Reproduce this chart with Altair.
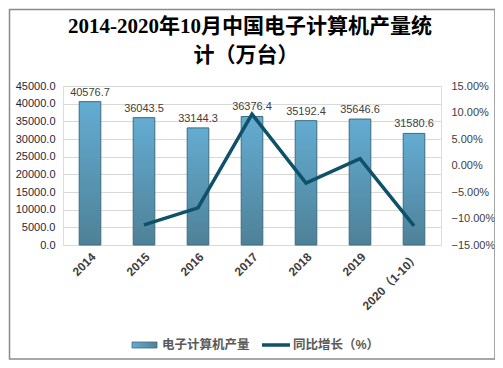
import altair as alt
import pandas as pd

years = ["2014", "2015", "2016", "2017", "2018", "2019", "2020（1-10）"]
output = [40576.7, 36043.5, 33144.3, 36376.4, 35192.4, 35646.6, 31580.6]
growth = [None, -11.2, -8.0, 9.7, -3.3, 1.3, -11.4]
left_ticks = [0, 5000, 10000, 15000, 20000, 25000, 30000, 35000, 40000, 45000]
right_ticks = [-15, -10, -5, 0, 5, 10, 15]
title_lines = ["2014-2020年10月中国电子计算机产量统", "计（万台）"]
legend_labels = ["电子计算机产量", "同比增长（%）"]

df = pd.DataFrame({"year": years, "output": output, "growth": growth})

W, H = 378, 159
FONT = "Liberation Sans, Noto Sans CJK SC"
TFONT = "Liberation Serif, Noto Sans CJK SC"

xenc = alt.X(
    "year:N", sort=years, title=None,
    scale=alt.Scale(paddingInner=0.6, paddingOuter=0.3),
    axis=alt.Axis(labelAngle=-45, labelFontWeight="bold", labelColor="#404040",
                  labelFontSize=12, labelFont=FONT, domain=False, ticks=False,
                  labelPadding=6),
)

left_axis = alt.Axis(values=left_ticks, format=".1f", labelColor="#1f1f3a",
                     labelFontSize=11, labelFont=FONT, domain=False, ticks=False,
                     labelOverlap=False, gridColor="#d9d9d9", labelPadding=8)
left_scale = alt.Scale(domain=[0, 45000], nice=False)

base = alt.Chart(df)

bars = base.mark_bar(
    color=alt.Gradient(
        gradient="linear", x1=0, x2=0, y1=0, y2=1,
        stops=[alt.GradientStop(color="#64acd2", offset=0),
               alt.GradientStop(color="#4e8197", offset=1)],
    ),
    stroke="#3d6b80", strokeWidth=1,
).encode(
    x=xenc,
    y=alt.Y("output:Q", title=None, scale=left_scale, axis=left_axis),
)

labels = base.mark_text(dy=-9, fontSize=11, color="#404040", font=FONT).encode(
    x=xenc,
    y=alt.Y("output:Q", title=None, scale=left_scale, axis=None),
    text=alt.Text("output:Q", format=".1f"),
)

line = base.transform_filter("datum.growth != null").mark_line(
    color="#0e5168", strokeWidth=3.5
).encode(
    x=xenc,
    y=alt.Y("growth:Q", title=None,
            scale=alt.Scale(domain=[-15, 15], nice=False),
            axis=alt.Axis(orient="right", values=right_ticks,
                          labelExpr="format(datum.value, '.2f') + '%'",
                          labelColor="#404040", labelFontSize=11, labelFont=FONT,
                          labelOverlap=False,
                          domain=False, ticks=False, grid=False, labelPadding=10)),
)

one = pd.DataFrame({"a": [0]})
deco = alt.Chart(one)

border = deco.mark_rect(filled=False, stroke="#8a8a8a", strokeWidth=1.5).encode(
    x=alt.value(-53.5), x2=alt.value(432), y=alt.value(-76.5), y2=alt.value(273)
)
title1 = deco.mark_text(align="center", baseline="middle", fontSize=21, fontWeight="bold",
                        color="#000000", font=TFONT).encode(
    x=alt.value(187), y=alt.value(-59), text=alt.value(title_lines[0]))
title2 = deco.mark_text(align="center", baseline="middle", fontSize=21, fontWeight="bold",
                        color="#000000", font=TFONT).encode(
    x=alt.value(183), y=alt.value(-30), text=alt.value(title_lines[1]))
sw1 = deco.mark_rect(
    color=alt.Gradient(
        gradient="linear", x1=0, x2=1, y1=0, y2=0,
        stops=[alt.GradientStop(color="#64acd2", offset=0),
               alt.GradientStop(color="#4e8197", offset=1)],
    ),
    stroke="#3d6b80", strokeWidth=0.8,
).encode(x=alt.value(69), x2=alt.value(94), y=alt.value(256), y2=alt.value(262))
t1 = deco.mark_text(align="left", baseline="middle", fontSize=12.5, fontWeight="bold",
                    color="#595959", font=FONT).encode(
    x=alt.value(99), y=alt.value(259), text=alt.value(legend_labels[0]))
sw2 = deco.mark_rule(color="#0e5168", strokeWidth=3.5).encode(
    x=alt.value(199), x2=alt.value(227), y=alt.value(259))
t2 = deco.mark_text(align="left", baseline="middle", fontSize=12.5, fontWeight="bold",
                    color="#595959", font=FONT).encode(
    x=alt.value(230), y=alt.value(259), text=alt.value(legend_labels[1]))

chart = alt.layer(
    bars, line, labels, border, title1, title2, sw1, t1, sw2, t2
).resolve_scale(y="independent").properties(
    width=W, height=H,
    autosize=alt.AutoSizeParams(type="none"),
    padding={"left": 55, "top": 78, "right": 54, "bottom": 115},
).configure_view(stroke=None).configure(background="white")

chart.save("out.html", embed_options={"renderer": "svg", "actions": False})
